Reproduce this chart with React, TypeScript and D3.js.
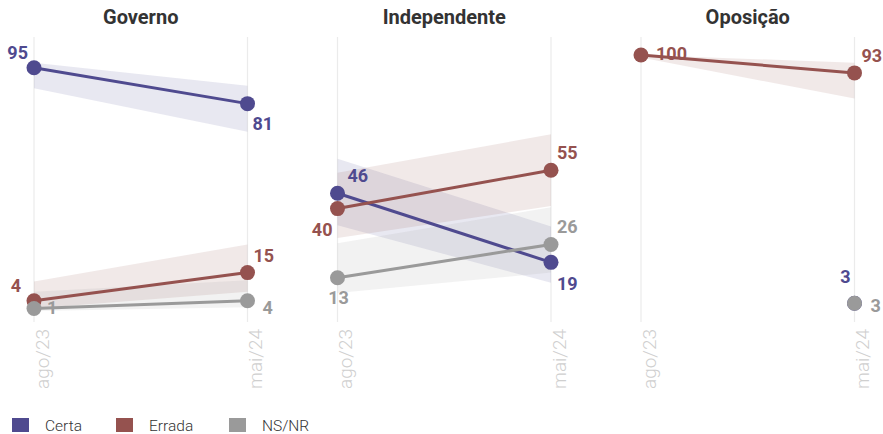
import React from "react";
import * as d3 from "d3";

const categories = ["Governo", "Independente", "Oposição"];
const periods = ["ago/23", "mai/24"];
const seriesNames = ["Certa", "Errada", "NS/NR"];
const seriesColors = ["#4f4a8f", "#95524f", "#9a9a9a"];

// values[category][period]
const certa: (number | null)[][] = [[95, 81], [46, 19], [null, 3]];
const errada: (number | null)[][] = [[4, 15], [40, 55], [100, 93]];
const nsnr: (number | null)[][] = [[1, 4], [13, 26], [null, 3]];

const certaLow: (number | null)[][] = [[87, 70], [33.5, 11], [null, null]];
const certaHigh: (number | null)[][] = [[97, 88], [59.5, 33], [null, null]];
const erradaLow: (number | null)[][] = [[1, 7.5], [28.5, 41], [99, 83]];
const erradaHigh: (number | null)[][] = [[11.5, 26], [54, 69], [100, 97]];
const nsnrLow: (number | null)[][] = [[0, 1.5], [7, 15], [null, null]];
const nsnrHigh: (number | null)[][] = [[7.5, 12], [26.5, 40.5], [null, null]];

// label offsets [category][series][period] -> [dx, dy, anchor]
const labelOffsets: [number, number, string][][][] = [
  [
    [[-6, -9, "end"], [5, 26, "start"]],
    [[-13, -9, "end"], [6, -11, "start"]],
    [[13, 6, "start"], [15, 13, "start"]],
  ],
  [
    [[10, -11, "start"], [6, 28, "start"]],
    [[-5, 27, "end"], [6, -11, "start"]],
    [[1, 26, "middle"], [6, -11, "start"]],
  ],
  [
    [[0, 0, "start"], [-4, -20, "end"]],
    [[15, 5, "start"], [7, -11, "start"]],
    [[0, 0, "start"], [16, 9, "start"]],
  ],
];

const W = 883;
const H = 434;

export default function App() {
  const values = [certa, errada, nsnr];
  const lows = [certaLow, erradaLow, nsnrLow];
  const highs = [certaHigh, erradaHigh, nsnrHigh];

  const panelX = d3.scalePoint<string>().domain(categories).range([34, 641]);
  const innerX = d3.scalePoint<string>().domain(periods).range([0, 213.5]);
  const y = d3.scaleLinear().domain([0, 100]).range([311, 55]);

  const font = "Roboto, 'Open Sans', sans-serif";

  return (
    <svg width={W} height={H} style={{ position: "absolute", left: 0, top: 0, fontFamily: font }}>
      <rect width={W} height={H} fill="#fff" />
      {categories.map((cat, ci) => {
        const px = panelX(cat)!;
        const xs = periods.map((p) => px + innerX(p)!);
        const center = (xs[0] + xs[1]) / 2;
        return (
          <g key={cat}>
            <text x={center} y={24} textAnchor="middle" fontSize={20} fontWeight={700} fill="#333">
              {cat}
            </text>
            {xs.map((x, pi) => (
              <g key={pi}>
                <line x1={x} x2={x} y1={37} y2={322} stroke="#ebebeb" strokeWidth={1.2} />
                <text
                  transform={`translate(${x + 14.5},${329}) rotate(-90)`}
                  textAnchor="end"
                  fontSize={19}
                  fontWeight={300}
                  fill="#cfcfcf"
                >
                  {periods[pi]}
                </text>
              </g>
            ))}
            {seriesNames.map((s, si) => {
              const lo = lows[si][ci];
              const hi = highs[si][ci];
              const pts = periods.map((p, pi) => ({ x: xs[pi], lo: lo[pi], hi: hi[pi] }));
              if (pts.some((d) => d.lo == null || d.hi == null)) return null;
              const area = d3
                .area<{ x: number; lo: number | null; hi: number | null }>()
                .x((d) => d.x)
                .y0((d) => y(d.lo as number))
                .y1((d) => y(d.hi as number));
              return <path key={s} d={area(pts) || ""} fill={seriesColors[si]} fillOpacity={0.13} />;
            })}
            {seriesNames.map((s, si) =>
              periods.map((p, pi) => {
                const v = values[si][ci][pi];
                if (v == null) return null;
                const [dx, dy, anchor] = labelOffsets[ci][si][pi];
                return (
                  <text
                    key={s + p}
                    x={xs[pi] + dx}
                    y={y(v) + dy}
                    textAnchor={anchor as any}
                    fontSize={18}
                    fontWeight={700}
                    fill={seriesColors[si]}
                  >
                    {v}
                  </text>
                );
              })
            )}
            {seriesNames.map((s, si) => {
              const vals = values[si][ci];
              const pts = periods
                .map((p, pi) => ({ x: xs[pi], v: vals[pi] }))
                .filter((d) => d.v != null);
              const line = d3
                .line<{ x: number; v: number | null }>()
                .x((d) => d.x)
                .y((d) => y(d.v as number));
              return (
                <g key={s}>
                  {pts.length > 1 && (
                    <path d={line(pts) || ""} fill="none" stroke={seriesColors[si]} strokeWidth={3} />
                  )}
                  {pts.map((d, i) => (
                    <circle key={i} cx={d.x} cy={y(d.v as number)} r={7.5} fill={seriesColors[si]} />
                  ))}
                </g>
              );
            })}
          </g>
        );
      })}
      {seriesNames.map((s, si) => {
        const lx = [12, 116, 229][si];
        return (
          <g key={s}>
            <rect x={lx} y={418} width={17} height={14} fill={seriesColors[si]} />
            <text x={lx + 33} y={431} fontSize={15.5} fontWeight={300} fill="#333">
              {s}
            </text>
          </g>
        );
      })}
    </svg>
  );
}
